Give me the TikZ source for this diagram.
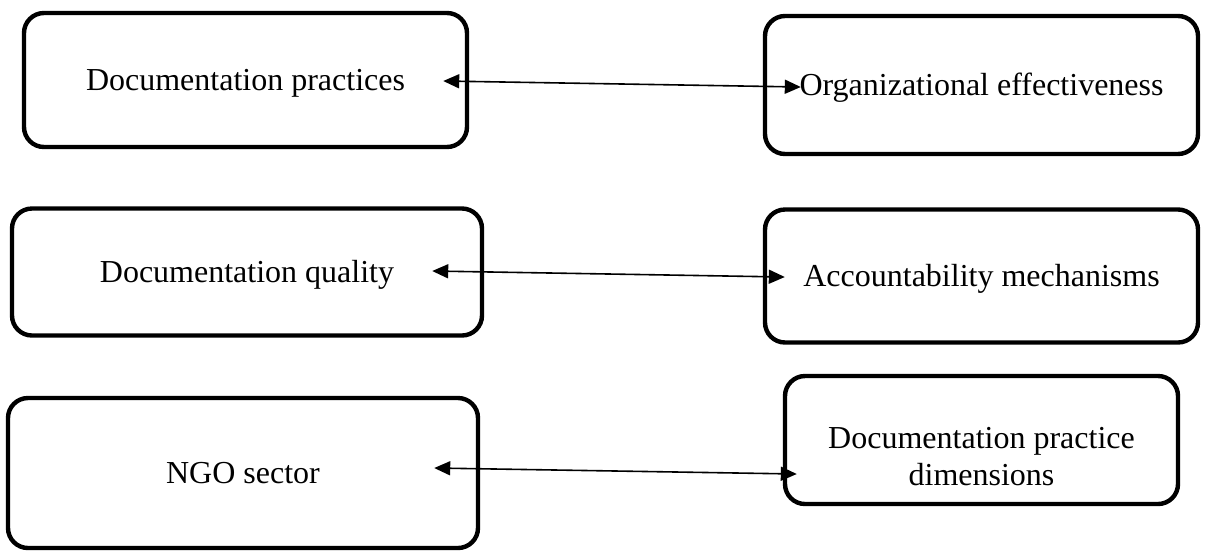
\documentclass[tikz,border=0pt]{standalone}
\usepackage{fontspec}
\setmainfont{Liberation Serif}
\usetikzlibrary{arrows.meta}

\begin{document}
\begin{tikzpicture}[x=0.5pt,y=-0.5pt]
      \tikzstyle{every node}=[font=\fontsize{16}{18.5}\selectfont]
      \tikzstyle{box}=[draw,rectangle,line width=2.2pt,rounded corners=10pt,align=center,text height=11pt,text depth=1pt]
      \tikzstyle{twoline}=[draw,rectangle,line width=2.2pt,rounded corners=10pt,align=center,text height=45pt,text depth=0pt]
      \tikzstyle{link}=[line width=0.8pt,{Triangle[length=8pt,width=7pt]}-{Triangle[length=8pt,width=7pt]}]
      \useasboundingbox (0,0) rectangle (1208,553);
      %%% HELP LINES - uncomment to design/extend
      %\draw[step=100,gray,very thin] (0,0) grid (1208,553);
      % first row
      \node (prac) at (245.5,80) [box,minimum width=221.5pt,minimum height=67pt] {Documentation practices};
      \node (eff) at (981.5,85) [box,minimum width=216.5pt,minimum height=69pt] {Organizational effectiveness};
      \draw[link] ([shift={(-26,1)}]prac.east) -- ([shift={(38,2)}]eff.west);
      % second row
      \node (qual) at (247,272) [box,minimum width=235pt,minimum height=63.5pt] {Documentation quality};
      \node (acc) at (981.5,276) [box,minimum width=216.5pt,minimum height=66.5pt] {Accountability mechanisms};
      \draw[link] ([shift={(-52,-1)}]qual.east) -- ([shift={(22,1)}]acc.west);
      % third row
      \node (ngo) at (243,473) [box,minimum width=235pt,minimum height=75pt] {NGO sector};
      \node (dim) at (981.5,440) [twoline,minimum width=196.5pt,minimum height=64pt] {Documentation practice\\dimensions};
      \draw[link] ([shift={(-46,-5)}]ngo.east) -- ([shift={(14,34)}]dim.west);
\end{tikzpicture}
\end{document}
